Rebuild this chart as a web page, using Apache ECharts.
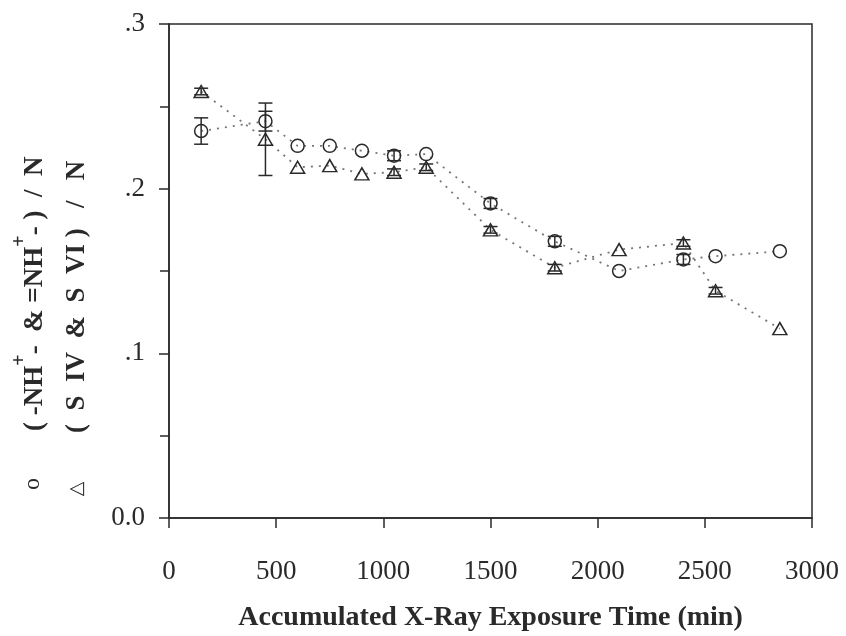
<!DOCTYPE html>
<html>
<head>
<meta charset="utf-8">
<script src="https://cdn.jsdelivr.net/npm/echarts@6/dist/echarts.min.js"></script>
<style>html,body{margin:0;padding:0;background:#fff}#c{width:846px;height:636px}</style>
</head>
<body>
<div id="c"></div>
<script>
var times = [150, 450, 600, 750, 900, 1050, 1200, 1500, 1800, 2100, 2400, 2550, 2850];
var nhValues = [0.235, 0.241, 0.226, 0.226, 0.223, 0.220, 0.221, 0.191, 0.168, 0.150, 0.157, 0.159, 0.162];
var nhErrors = [0.008, 0.006, 0, 0, 0, 0.003, 0, 0.003, 0.003, 0, 0.003, 0, 0];
var sValues = [0.259, 0.230, 0.213, 0.214, 0.209, 0.210, 0.213, 0.175, 0.152, 0.163, 0.167, 0.138, 0.115];
var sErrors = [0.002, 0.022, 0, 0, 0, 0.002, 0.002, 0.002, 0.002, 0, 0.002, 0.002, 0];
var yTickLabels = {'0': '0.0', '0.1': '.1', '0.2': '.2', '0.3': '.3'};
var xTitle = 'Accumulated X-Ray Exposure Time (min)';

var serif = '"Liberation Serif", "Times New Roman", serif';
var ink = '#2a2a2a';

function pairs(xs, ys) { return xs.map(function (x, i) { return [x, ys[i]]; }); }
function errData(xs, ys, es) {
  var out = [];
  xs.forEach(function (x, i) { if (es[i] > 0) out.push([x, ys[i], es[i]]); });
  return out;
}
function errRender(params, api) {
  var x = api.value(0), y = api.value(1), e = api.value(2);
  var hi = api.coord([x, y + e]);
  var lo = api.coord([x, y - e]);
  var w = 7;
  var st = { stroke: ink, lineWidth: 1.5 };
  return {
    type: 'group',
    children: [
      { type: 'line', shape: { x1: hi[0], y1: hi[1], x2: lo[0], y2: lo[1] }, style: st },
      { type: 'line', shape: { x1: hi[0] - w, y1: hi[1], x2: hi[0] + w, y2: hi[1] }, style: st },
      { type: 'line', shape: { x1: lo[0] - w, y1: lo[1], x2: lo[0] + w, y2: lo[1] }, style: st }
    ]
  };
}

var chart = echarts.init(document.getElementById('c'), null, { renderer: 'canvas' });
var axisLine = { show: true, lineStyle: { color: ink, width: 1.5 } };
var nStyle = { fontFamily: serif, fontSize: 27, fontWeight: 'bold', fill: ink, lineHeight: 50, verticalAlign: 'middle' };
chart.setOption({
  animation: false,
  backgroundColor: '#fff',
  grid: { left: 169, right: 34, top: 24, bottom: 118, show: true, borderColor: ink, borderWidth: 1.5,
    backgroundColor: 'transparent', containLabel: false, outerBoundsMode: 'none' },
  xAxis: {
    type: 'value', min: 0, max: 3000, interval: 500,
    axisLine: axisLine,
    axisTick: { show: true, inside: false, length: 10, lineStyle: { color: ink, width: 1.5 } },
    axisLabel: { fontFamily: serif, fontSize: 27, color: ink, margin: 40, formatter: function (v) { return String(v); } },
    splitLine: { show: false },
    name: xTitle, nameLocation: 'middle', nameGap: 86,
    nameTextStyle: { fontFamily: serif, fontSize: 28, fontWeight: 'bold', color: ink }
  },
  yAxis: {
    type: 'value', min: 0, max: 0.3, interval: 0.1,
    axisLine: axisLine,
    axisTick: { show: true, inside: false, length: 10, lineStyle: { color: ink, width: 1.5 } },
    minorTick: { show: true, splitNumber: 2, length: 9, lineStyle: { color: ink, width: 1.5 } },
    axisLabel: {
      fontFamily: serif, fontSize: 27, color: ink, margin: 24,
      formatter: function (v) { var k = String(Math.round(v * 10) / 10); return yTickLabels[k] !== undefined ? yTickLabels[k] : ''; }
    },
    splitLine: { show: false }
  },
  graphic: [
    { type: 'text', x: 35, y: 431, rotation: Math.PI / 2,
      style: { text: '{n|( -NH}{s|+}{m|-}{n|  & =NH}{s|+}{m|-}{n| )  /  N}', align: 'left', verticalAlign: 'middle',
        rich: {
          n: nStyle,
          s: { fontFamily: serif, fontSize: 20, fontWeight: 'bold', fill: ink, lineHeight: 14, verticalAlign: 'top' },
          m: { fontFamily: serif, fontSize: 27, fontWeight: 'bold', fill: ink, lineHeight: 50, verticalAlign: 'middle', padding: [1, 0, 0, 0] }
        } } },
    { type: 'text', x: 77, y: 433, rotation: Math.PI / 2,
      style: { text: '(  S  IV  &  S  VI )   /   N', align: 'left', verticalAlign: 'middle',
        font: 'bold 27px ' + serif, fill: ink } },
    { type: 'text', x: 33, y: 484, rotation: Math.PI / 2,
      style: { text: 'o', align: 'center', verticalAlign: 'middle', font: '24px ' + serif, fill: ink } },
    { type: 'text', x: 77, y: 489, rotation: Math.PI / 2,
      style: { text: '\u25B3', align: 'center', verticalAlign: 'middle', font: '19px "DejaVu Sans", sans-serif', fill: ink } }
  ],
  series: [
    {
      type: 'line', data: pairs(times, nhValues),
      symbol: 'circle', symbolSize: 13,
      itemStyle: { color: 'rgba(255,255,255,0)', borderColor: ink, borderWidth: 1.5 },
      lineStyle: { color: '#777', width: 1.8, type: [2, 6] },
      z: 3
    },
    {
      type: 'line', data: pairs(times, sValues),
      symbol: 'triangle', symbolSize: [14, 12],
      itemStyle: { color: 'rgba(255,255,255,0)', borderColor: ink, borderWidth: 1.5 },
      lineStyle: { color: '#777', width: 1.8, type: [2, 6] },
      z: 3
    },
    { type: 'custom', renderItem: errRender, data: errData(times, nhValues, nhErrors), z: 4 },
    { type: 'custom', renderItem: errRender, data: errData(times, sValues, sErrors), z: 4 }
  ]
});
</script>
</body>
</html>
